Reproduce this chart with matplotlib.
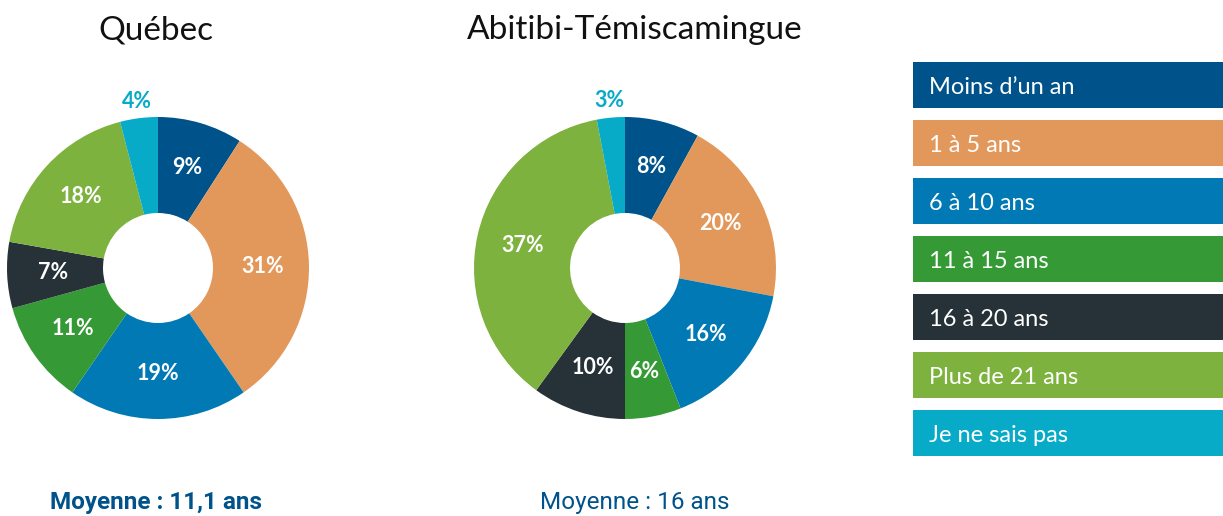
import numpy as np
import matplotlib.pyplot as plt

# categories and shares (%)
categories = ["Moins d\u2019un an", "1 à 5 ans", "6 à 10 ans", "11 à 15 ans",
              "16 à 20 ans", "Plus de 21 ans", "Je ne sais pas"]
quebec = [9, 31, 19, 11, 7, 18, 4]
abitibi = [8, 20, 16, 6, 10, 37, 3]
colors = ["#00538a", "#e3985b", "#0079b4", "#359a35", "#263238", "#7cb23d", "#07abc8"]

W, H = 1223, 516
fig = plt.figure(figsize=(W / 100, H / 100), dpi=100)
ax = fig.add_axes([0, 0, 1, 1])

narrow = ["Liberation Sans Narrow", "DejaVu Sans Condensed", "Roboto"]


def donut(values, cx, cy, title, text_x, note, note_weight):
    r_out, r_in = 151, 55
    wedges, _ = ax.pie(values, colors=colors, startangle=90, counterclock=False,
                       radius=r_out, center=(cx, cy),
                       wedgeprops=dict(width=r_out - r_in, linewidth=0))
    for w, v in zip(wedges, values):
        ang = np.deg2rad((w.theta1 + w.theta2) / 2)
        if v <= 5:
            r, col = r_out + 17, w.get_facecolor()
        else:
            r, col = (r_out + r_in) / 2 + 2, "white"
        ax.text(cx + r * np.cos(ang), cy + r * np.sin(ang), f"{v}%",
                ha="center", va="center", color=col, fontsize=15.5,
                fontweight="bold", family="Lato")
    ax.text(text_x, H - 30, title, ha="center", va="center", fontsize=24,
            family="Lato", color="#111111")
    ax.text(text_x, H - 503, note, ha="center", va="center", fontsize=17.5,
            family=narrow, color="#00538a", fontweight=note_weight)


donut(quebec, 158, H - 268, "Québec", 156, "Moyenne : 11,1 ans", "bold")
donut(abitibi, 625, H - 268, "Abitibi-Témiscamingue", 635, "Moyenne : 16 ans", "normal")

# legend as coloured boxes
ys = [H - 85 - 58 * i for i in range(len(categories))]
ax.barh(ys, [310] * len(categories), left=913, height=46, color=colors)
for y, c in zip(ys, categories):
    ax.text(929, y - 3, c, ha="left", va="center", color="white", fontsize=17,
            family="Lato")

ax.set_xlim(0, W)
ax.set_ylim(0, H)
ax.set_aspect("equal")
ax.axis("off")
fig.savefig("out.png", dpi=100)
